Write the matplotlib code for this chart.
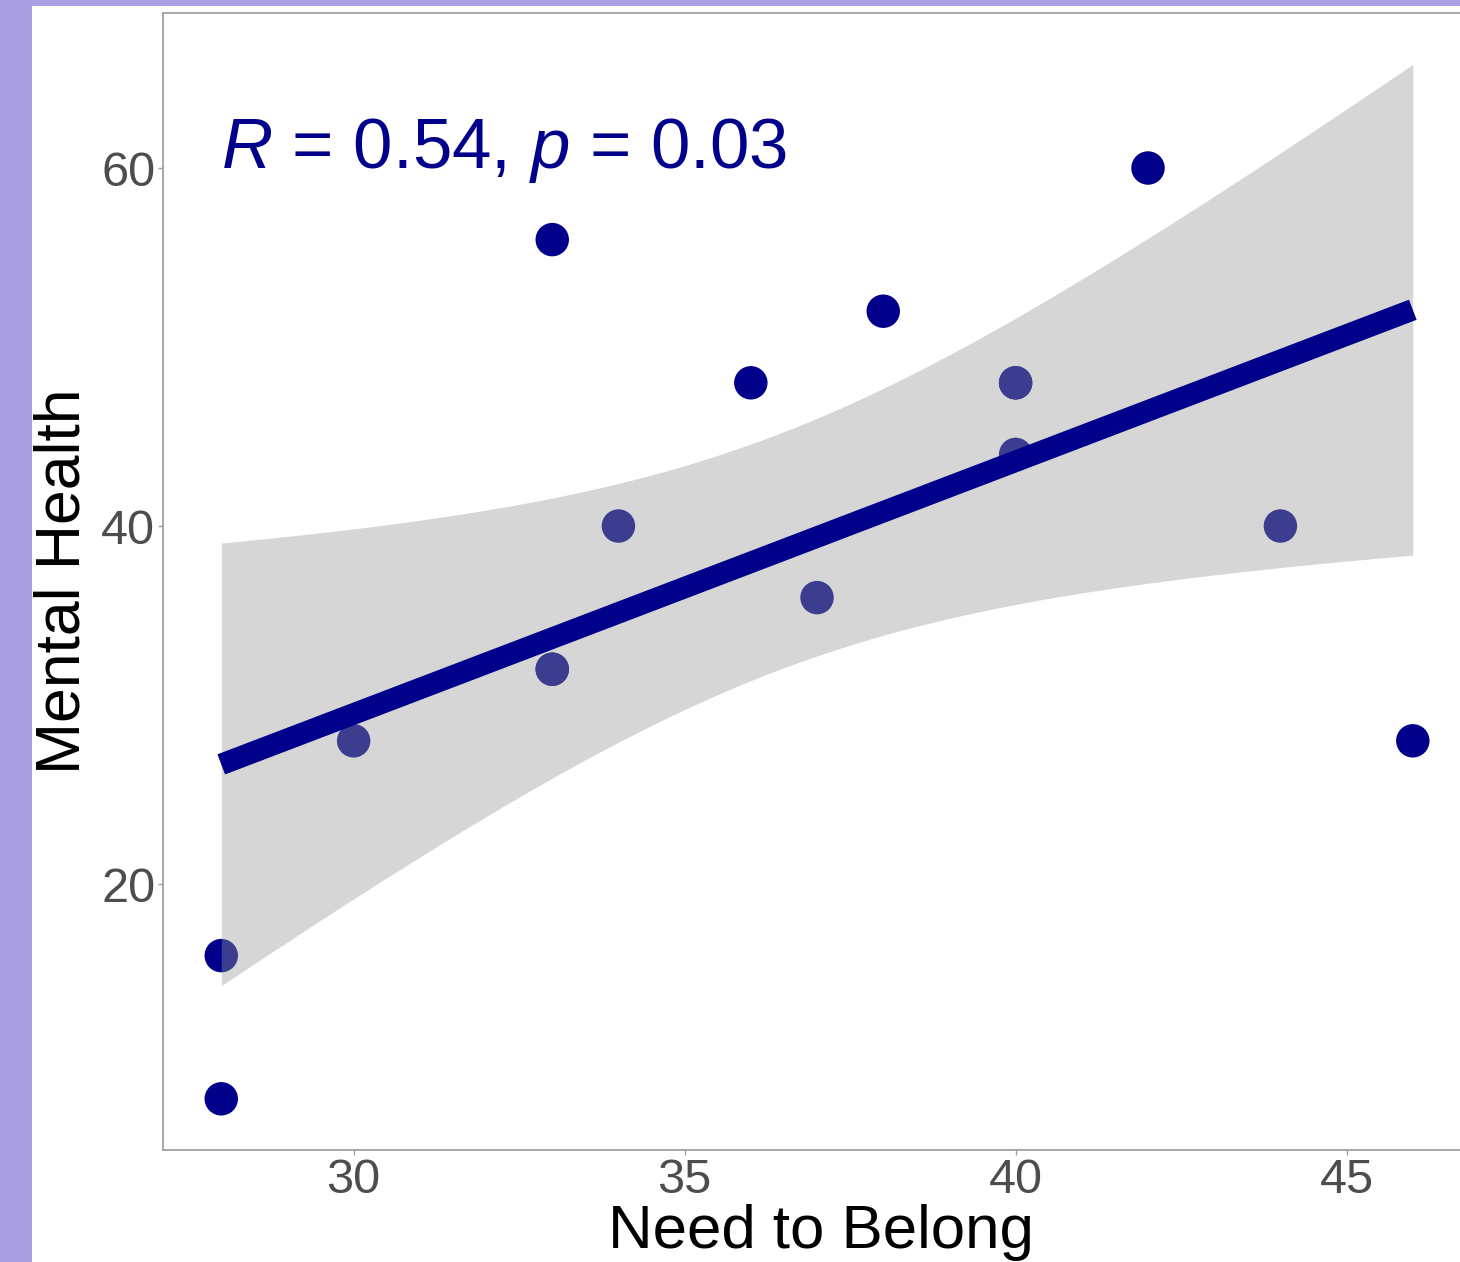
import numpy as np
import matplotlib
matplotlib.use("Agg")
import matplotlib.pyplot as plt
from matplotlib.patches import Rectangle

# ---- data ((33, 32) and (40, 48) occur twice, overlapping) ----
need_to_belong = [28, 28, 30, 33, 33, 33, 34, 36, 37, 38, 40, 40, 40, 42, 44, 46]
mental_health = [16, 8, 28, 56, 32, 32, 40, 48, 36, 52, 48, 48, 44, 60, 40, 28]
x_ticks = [30, 35, 40, 45]
y_ticks = [20, 40, 60]
stat_label = r"$\it{R}$ = 0.54, $\it{p}$ = 0.03"
x_label = "Need to Belong"
y_label = "Mental Health"

plt.rcParams['font.family'] = ['Liberation Sans', 'DejaVu Sans']
plt.rcParams['mathtext.fontset'] = 'custom'
plt.rcParams['mathtext.it'] = 'Liberation Sans:italic'
plt.rcParams['mathtext.rm'] = 'Liberation Sans'

W, H = 1460, 1262
fig = plt.figure(figsize=(W / 100, H / 100), dpi=100, facecolor='#a99fe2')
bg = Rectangle((32 / W, 0), 1, (H - 6) / H, transform=fig.transFigure,
               facecolor='white', edgecolor='none', zorder=-10)
fig.patches.append(bg)

left, right, top, bottom = 163, 1479, 13, 1150
ax = fig.add_axes([left / W, (H - bottom) / H, (right - left) / W, (bottom - top) / H])
ax.set_zorder(5)
ax.set_facecolor('white')

x = np.array(need_to_belong, dtype=float)
y = np.array(mental_health, dtype=float)
n = len(x)

# linear fit with 95% confidence band
b1, b0 = np.polyfit(x, y, 1)
xs = np.linspace(x.min(), x.max(), 80)
ys = b0 + b1 * xs
resid = y - (b0 + b1 * x)
s = np.sqrt(np.sum(resid ** 2) / (n - 2))
sxx = np.sum((x - x.mean()) ** 2)
se = s * np.sqrt(1 / n + (xs - x.mean()) ** 2 / sxx)
t_table = {12: 2.1788, 13: 2.1604, 14: 2.1448, 15: 2.1314, 16: 2.1199}
tval = t_table[n - 2]  # t(0.975, df)
lo, hi = ys - tval * se, ys + tval * se

navy = '#00008b'
ax.scatter(x, y, s=580, color=navy, edgecolors='none', zorder=2)
ax.fill_between(xs, lo, hi, color='#999999', alpha=0.4, linewidth=0, zorder=3)
ax.plot(xs, ys, color=navy, linewidth=15.5, solid_capstyle='butt', zorder=4)

ax.text(28.0, 60, stat_label, color=navy, fontsize=51, ha='left', va='baseline', zorder=5)

ax.set_xlim(27.12, 47.0)
ax.set_ylim(5.14, 68.66)
ax.set_xticks(x_ticks)
ax.set_yticks(y_ticks)

for side in ['left', 'bottom', 'top', 'right']:
    ax.spines[side].set_color('#a0a0a0')
    ax.spines[side].set_linewidth(1.3)
ax.tick_params(axis='both', colors='#a0a0a0', length=3.5, width=1.0,
               labelcolor='#4d4d4d', labelsize=35, pad=2)
ax.set_xlabel(x_label, fontsize=44.5, color='black', labelpad=1)
ax.set_ylabel(y_label, fontsize=45, color='black', labelpad=6)

fig.savefig('out.png', dpi=100, facecolor=fig.get_facecolor())
